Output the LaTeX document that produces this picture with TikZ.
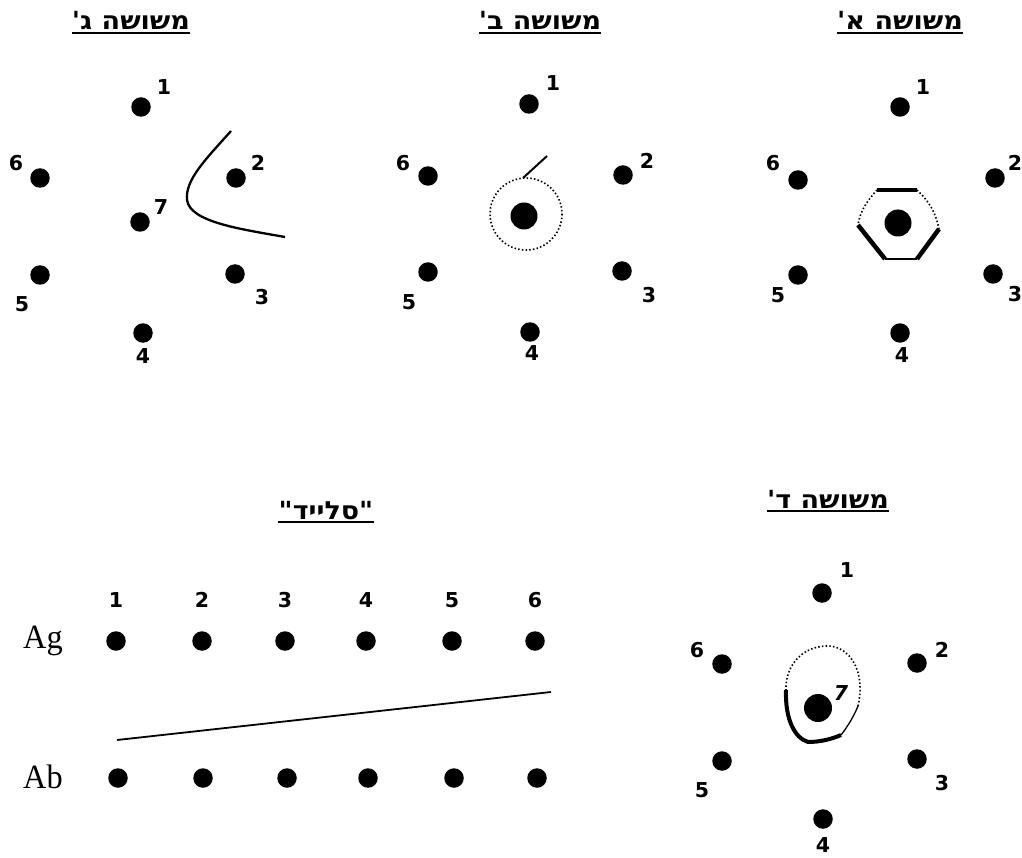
\documentclass[tikz,border=0pt]{standalone}
\usepackage{fontspec}
\TeXXeTstate=1
\newfontfamily\hebfont[Script=Hebrew]{DejaVu Sans}
\newfontfamily\numfont{DejaVu Sans}
\newfontfamily\serfont{Liberation Serif}
\begin{document}
\begin{tikzpicture}[x=1pt,y=-1pt,
  dot/.style={circle,fill=black,inner sep=0pt,minimum size=19.5pt},
  bigdot/.style={circle,fill=black,inner sep=0pt,minimum size=27pt},
  num/.style={font=\numfont\bfseries\fontsize{20.5}{20.5}\selectfont,inner sep=0pt},
  ttl/.style={font=\hebfont\bfseries\fontsize{25}{25}\selectfont,inner sep=0pt,anchor=base,xscale=1.08},
  uline/.style={line width=2pt},
  rowlab/.style={font=\serfont\fontsize{34}{34}\selectfont,inner sep=0pt,anchor=base west,xscale=0.95},
  thick line/.style={line width=4.5pt},
  thin line/.style={line width=1.3pt},
  dotline/.style={line width=1.6pt,dash pattern=on 1.5pt off 2.2pt},
  curveline/.style={line width=2.3pt}]
\useasboundingbox (0,0) rectangle (1022,858);

% ---------- Panel C (left top) ----------
\node[ttl] (tC) at (131,30) {\beginR משושה ג'\endR};
\draw[uline] ([yshift=-3pt]tC.base west) -- ([yshift=-3pt]tC.base east);
\node[dot] (c1) at (141,107) {};
\node[dot] (c6) at (40,178) {};
\node[dot] (c2) at (236,178) {};
\node[dot] (c7) at (140,222) {};
\node[dot] (c5) at (40,275) {};
\node[dot] (c3) at (235,274) {};
\node[dot] (c4) at (143,333) {};
\node[num] (lc1) at (164,87) {1};
\node[num] (lc6) at (16,163) {6};
\node[num] (lc2) at (258,163) {2};
\node[num] (lc7) at (161,207) {7};
\node[num] (lc5) at (22,304) {5};
\node[num] (lc3) at (262,297) {3};
\node[num] (lc4) at (143,356) {4};
\coordinate (cs) at (231,131);
\coordinate (cm) at (187,200);
\coordinate (ce) at (285,237);
\draw[curveline] (cs) .. controls (205,160) and (185,180) .. (cm)
  .. controls (190,222) and (240,229) .. (ce);

% ---------- Panel B (middle top) ----------
\node[ttl] (tB) at (540,30) {\beginR משושה ב'\endR};
\draw[uline] ([yshift=-3pt]tB.base west) -- ([yshift=-3pt]tB.base east);
\node[dot] (b1) at (529,104) {};
\node[dot] (b6) at (428,176) {};
\node[dot] (b2) at (623,175) {};
\node[bigdot] (b7) at (524,216) {};
\node[dot] (b5) at (428,272) {};
\node[dot] (b3) at (622,271) {};
\node[dot] (b4) at (530,332) {};
\node[num] (lb1) at (553,83) {1};
\node[num] (lb6) at (403,163) {6};
\node[num] (lb2) at (647,161) {2};
\node[num] (lb5) at (409,302) {5};
\node[num] (lb3) at (649,295) {3};
\node[num] (lb4) at (532,353) {4};
\draw[dotline] (526,214) circle (36);
\coordinate (bl1) at (523,178);
\coordinate (bl2) at (547,156);
\draw[line width=2pt] (bl1) -- (bl2);

% ---------- Panel A (right top) ----------
\node[ttl] (tA) at (900,30) {\beginR משושה א'\endR};
\draw[uline] ([yshift=-3pt]tA.base west) -- ([yshift=-3pt]tA.base east);
\node[dot] (a1) at (900,107) {};
\node[dot] (a6) at (798,180) {};
\node[dot] (a2) at (995,178) {};
\node[bigdot] (a7) at (898,223) {};
\node[dot] (a5) at (798,275) {};
\node[dot] (a3) at (993,274) {};
\node[dot] (a4) at (900,333) {};
\node[num] (la1) at (923,87) {1};
\node[num] (la6) at (773,163) {6};
\node[num] (la2) at (1015,163) {2};
\node[num] (la5) at (778,295) {5};
\node[num] (la3) at (1015,294) {3};
\node[num] (la4) at (902,355) {4};
\coordinate (htl) at (877,190);
\coordinate (htr) at (917,190);
\coordinate (hr) at (939,229);
\coordinate (hbr) at (917,259);
\coordinate (hbl) at (885,259);
\coordinate (hl) at (858,225);
\draw[thick line] (htl) -- (htr);
\draw[thick line] (hl) -- (hbl);
\draw[thick line] (hbr) -- (hr);
\draw[thin line] (hbl) -- (hbr);
\draw[dotline] (htl) .. controls (866,202) and (860,212) .. (hl);
\draw[dotline] (htr) .. controls (930,202) and (936,214) .. (hr);

% ---------- Panel D (right bottom) ----------
\node[ttl] (tD) at (828,508) {\beginR משושה ד'\endR};
\draw[uline] ([yshift=-3pt]tD.base west) -- ([yshift=-3pt]tD.base east);
\node[dot] (d1) at (822,593) {};
\node[dot] (d6) at (722,664) {};
\node[dot] (d2) at (917,663) {};
\node[bigdot,minimum size=28pt] (d7) at (818,708) {};
\node[dot] (d5) at (722,761) {};
\node[dot] (d3) at (917,759) {};
\node[dot] (d4) at (823,819) {};
\node[num] (ld1) at (847,570) {1};
\node[num] (ld6) at (697,650) {6};
\node[num] (ld2) at (942,650) {2};
\node[num] (ld7) at (841,693) {\itshape 7};
\node[num] (ld5) at (702,790) {5};
\node[num] (ld3) at (942,783) {3};
\node[num] (ld4) at (823,845) {4};
\coordinate (ea) at (786,690);
\coordinate (eb) at (808,742);
\coordinate (ec) at (841,735);
\coordinate (ed) at (858,706);
\draw[dotline] (ed) .. controls (866,672) and (850,645) .. (826,646)
  .. controls (800,647) and (785,668) .. (ea);
\draw[line width=4pt] (ea) .. controls (785,720) and (795,738) .. (eb)
  .. controls (820,742) and (832,739) .. (ec);
\draw[thin line] (ec) .. controls (848,726) and (854,716) .. (ed);

% ---------- Slide (left bottom) ----------
\node[ttl] (tS) at (326,519) {\beginR "סלייד"\endR};
\draw[uline] ([yshift=-3pt]tS.base west) -- ([yshift=-3pt]tS.base east);
\node[rowlab] (ag) at (23,648) {Ag};
\node[rowlab] (ab) at (23,788) {Ab};
\foreach \i/\xg/\xb in {1/116/118,2/202/203,3/285/287,4/366/368,5/452/454,6/535/537}{
  \node[num] (sn\i) at (\xg,600) {\i};
  \node[dot] (g\i) at (\xg,641) {};
  \node[dot] (s\i) at (\xb,778) {};
}
\coordinate (sl1) at (117,740);
\coordinate (sl2) at (551,692);
\draw[line width=1.8pt] (sl1) -- (sl2);
\end{tikzpicture}
\end{document}
